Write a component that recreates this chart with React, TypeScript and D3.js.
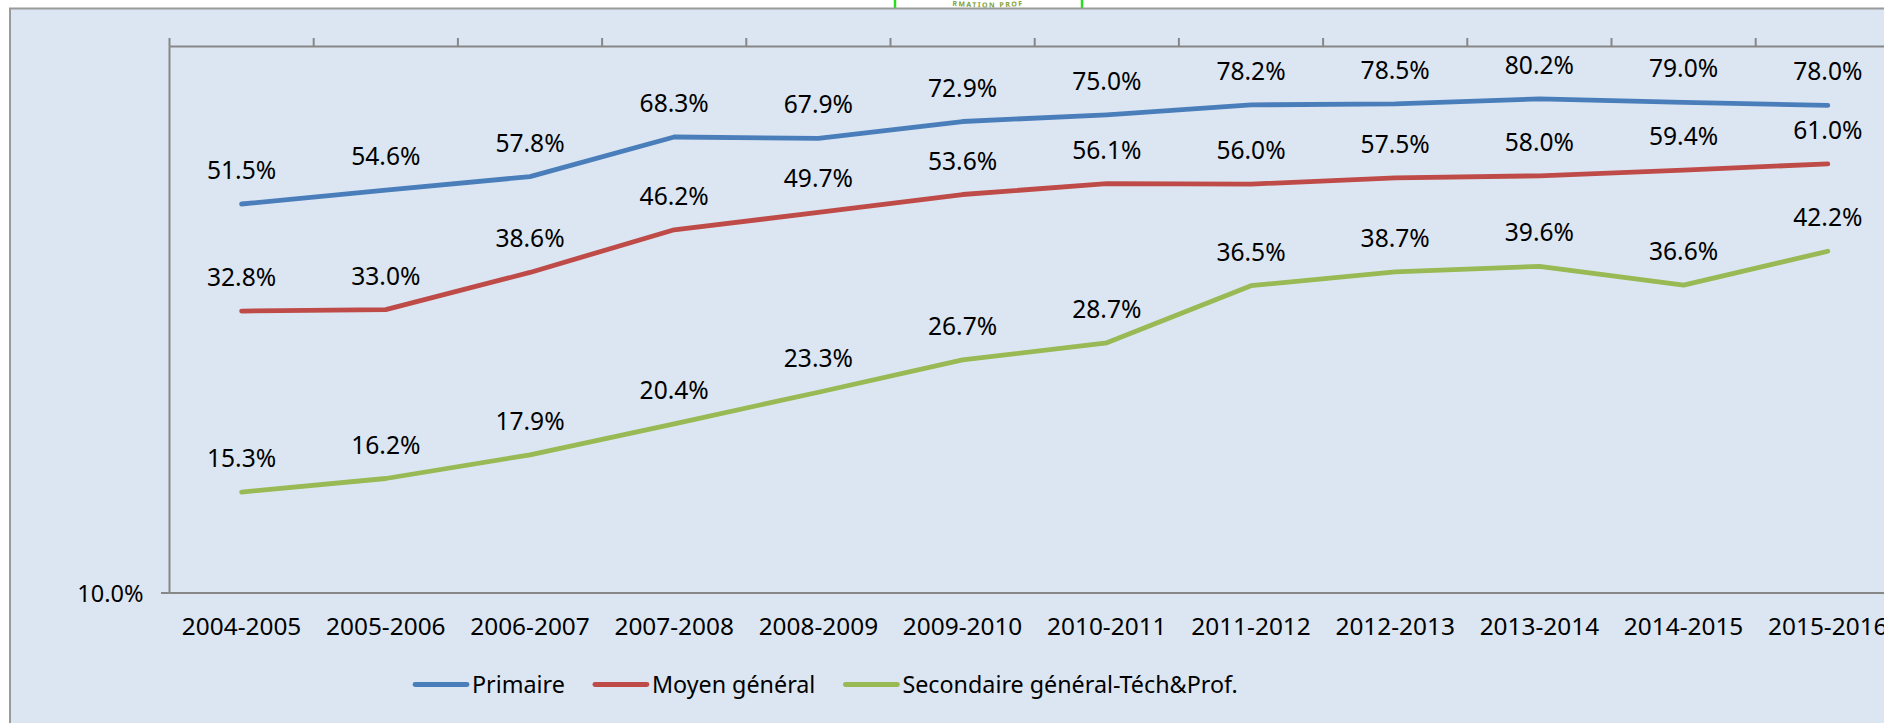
import React, { useEffect, useRef } from 'react';
import * as d3 from 'd3';

// school years (categories)
const years = [
  '2004-2005', '2005-2006', '2006-2007', '2007-2008', '2008-2009', '2009-2010',
  '2010-2011', '2011-2012', '2012-2013', '2013-2014', '2014-2015', '2015-2016',
];

// rates in %
const primaire = [51.5, 54.6, 57.8, 68.3, 67.9, 72.9, 75.0, 78.2, 78.5, 80.2, 79.0, 78.0];
const moyenGeneral = [32.8, 33.0, 38.6, 46.2, 49.7, 53.6, 56.1, 56.0, 57.5, 58.0, 59.4, 61.0];
const secondaire = [15.3, 16.2, 17.9, 20.4, 23.3, 26.7, 28.7, 36.5, 38.7, 39.6, 36.6, 42.2];

const seriesNames = ['Primaire', 'Moyen général', 'Secondaire général-Téch&Prof.'];
const seriesColors = ['#4A7EBB', '#BE4B48', '#98B954'];
const yTickValues = [10];

const FONT = "'Noto Sans', sans-serif";

const App: React.FC = () => {
  const svgRef = useRef<SVGSVGElement>(null);

  useEffect(() => {
    if (!svgRef.current) return;
    const svg = d3.select(svgRef.current);
    svg.selectAll('*').remove();

    const W = 1884;
    const H = 723;
    const plot = { left: 169.5, top: 46.5, bottom: 593, step: 144.2 };

    // white page + logo fragment at top
    svg.append('rect').attr('width', W).attr('height', H).attr('fill', '#fff');
    const defs = svg.append('defs');
    defs.append('path')
      .attr('id', 'logoArc')
      .attr('d', 'M 938,4 Q 988,11 1038,4');
    svg.append('text')
      .attr('font-family', FONT)
      .attr('font-size', 7)
      .attr('font-weight', 'bold')
      .attr('letter-spacing', 1.5)
      .attr('fill', '#7FA23A')
      .append('textPath')
      .attr('href', '#logoArc')
      .attr('startOffset', '50%')
      .attr('text-anchor', 'middle')
      .text('RMATION PROF');
    [895, 1082].forEach(x => {
      svg.append('line')
        .attr('x1', x).attr('x2', x).attr('y1', 0).attr('y2', 8)
        .attr('stroke', '#22E01A').attr('stroke-width', 2.5);
    });

    // chart area
    svg.append('rect')
      .attr('x', 10).attr('y', 8.5)
      .attr('width', W + 20).attr('height', H + 20)
      .attr('fill', '#DCE6F2')
      .attr('stroke', '#9A9A9A')
      .attr('stroke-width', 2);

    const x = d3.scaleBand<string>()
      .domain(years)
      .range([plot.left, plot.left + plot.step * years.length]);
    const y = d3.scaleLog().domain([10, 100]).range([plot.bottom, plot.top]);
    const cx = (d: string) => (x(d) || 0) + x.bandwidth() / 2;
    const right = plot.left + plot.step * years.length;

    const axisColor = '#878787';
    // axes
    svg.append('line')
      .attr('x1', plot.left).attr('x2', plot.left)
      .attr('y1', plot.top).attr('y2', plot.bottom)
      .attr('stroke', axisColor).attr('stroke-width', 2);
    svg.append('line')
      .attr('x1', plot.left).attr('x2', right)
      .attr('y1', y(100)).attr('y2', y(100))
      .attr('stroke', axisColor).attr('stroke-width', 2);
    svg.append('line')
      .attr('x1', plot.left).attr('x2', right)
      .attr('y1', y(10)).attr('y2', y(10))
      .attr('stroke', axisColor).attr('stroke-width', 2);

    // category tick marks on the top axis (crosses at maximum)
    const bounds = years.map(d => x(d) || 0).concat([right]);
    svg.selectAll('.xtick')
      .data(bounds)
      .enter()
      .append('line')
      .attr('x1', d => d).attr('x2', d => d)
      .attr('y1', y(100) - 8.5).attr('y2', y(100))
      .attr('stroke', axisColor).attr('stroke-width', 2);

    // y tick + label
    yTickValues.forEach(v => {
      svg.append('line')
        .attr('x1', plot.left - 8.5).attr('x2', plot.left)
        .attr('y1', y(v)).attr('y2', y(v))
        .attr('stroke', axisColor).attr('stroke-width', 2);
      svg.append('text')
        .attr('x', plot.left - 26).attr('y', y(v) + 9)
        .attr('text-anchor', 'end')
        .attr('font-family', FONT).attr('font-size', 23.5)
        .attr('fill', '#000')
        .text(v.toFixed(1) + '%');
    });

    // category labels
    svg.selectAll('.xlabel')
      .data(years)
      .enter()
      .append('text')
      .attr('x', d => cx(d))
      .attr('y', 635)
      .attr('text-anchor', 'middle')
      .attr('font-family', FONT).attr('font-size', 24.4)
      .attr('fill', '#000')
      .text(d => d);

    const allSeries = [primaire, moyenGeneral, secondaire];
    const line = d3.line<number>()
      .x((_, i) => cx(years[i]))
      .y(v => y(v));

    allSeries.forEach((vals, si) => {
      svg.append('path')
        .datum(vals)
        .attr('fill', 'none')
        .attr('stroke', seriesColors[si])
        .attr('stroke-width', 4.8)
        .attr('stroke-linecap', 'round')
        .attr('stroke-linejoin', 'round')
        .attr('d', line);
    });

    allSeries.forEach(vals => {
      svg.append('g')
        .selectAll('text')
        .data(vals)
        .enter()
        .append('text')
        .attr('x', (_, i) => cx(years[i]))
        .attr('y', v => y(v) - 25)
        .attr('text-anchor', 'middle')
        .attr('font-family', FONT).attr('font-size', 24.6)
        .attr('fill', '#000')
        .text(v => v.toFixed(1) + '%');
    });

    // legend
    const legend = svg.append('g');
    let lx = 415;
    seriesNames.forEach((name, i) => {
      legend.append('line')
        .attr('x1', lx).attr('x2', lx + 52)
        .attr('y1', 684.5).attr('y2', 684.5)
        .attr('stroke', seriesColors[i])
        .attr('stroke-width', 4.8)
        .attr('stroke-linecap', 'round');
      const t = legend.append('text')
        .attr('x', lx + 57).attr('y', 693)
        .attr('font-family', FONT).attr('font-size', 23.3)
        .attr('fill', '#000')
        .text(name);
      const w = (t.node() as SVGTextElement).getComputedTextLength();
      lx = lx + 57 + w + 30;
    });
  }, []);

  return (
    <svg
      ref={svgRef}
      width={1884}
      height={723}
      style={{ position: 'absolute', left: 0, top: 0, display: 'block' }}
    />
  );
};

export default App;
